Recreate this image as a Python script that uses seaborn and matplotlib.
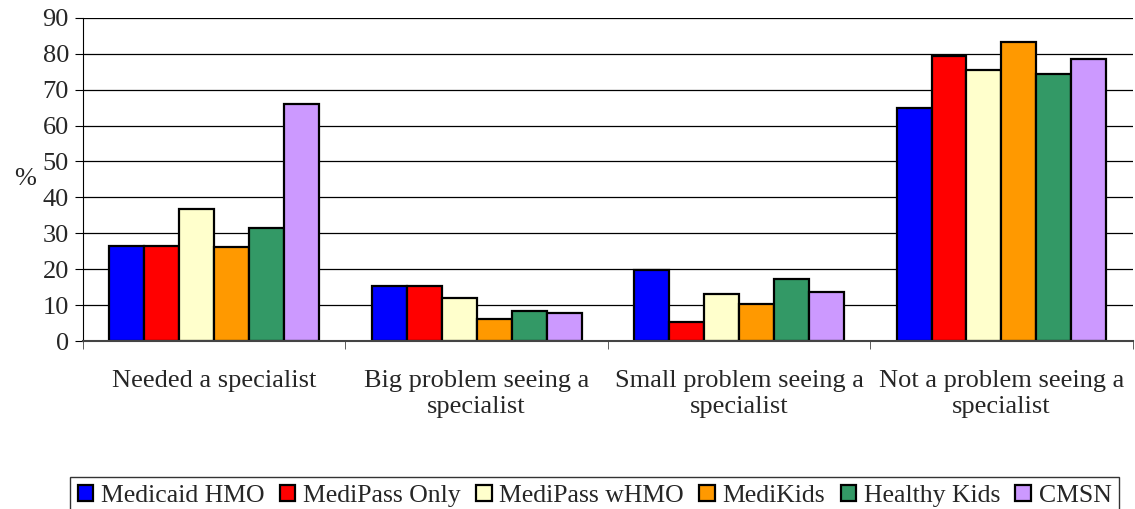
import pandas as pd
import matplotlib.pyplot as plt
import seaborn as sns

categories = ["Needed a specialist", "Big problem seeing a\nspecialist",
              "Small problem seeing a\nspecialist", "Not a problem seeing a\nspecialist"]
plans = ["Medicaid HMO", "MediPass Only", "MediPass wHMO", "MediKids", "Healthy Kids", "CMSN"]

medicaid_hmo = [26.6, 15.2, 19.9, 65.0]
medipass_only = [26.6, 15.2, 5.2, 79.5]
medipass_whmo = [36.7, 12.0, 13.0, 75.4]
medikids = [26.2, 6.2, 10.4, 83.2]
healthy_kids = [31.4, 8.3, 17.2, 74.3]
cmsn = [65.9, 7.8, 13.6, 78.4]

colors = ["#0000ff", "#ff0000", "#ffffcc", "#ff9900", "#339966", "#cc99ff"]

series = [medicaid_hmo, medipass_only, medipass_whmo, medikids, healthy_kids, cmsn]
rows = []
for plan, vals in zip(plans, series):
    for cat, v in zip(categories, vals):
        rows.append({"category": cat, "plan": plan, "value": v})
df = pd.DataFrame(rows)

sns.set_style("white")
plt.rcParams["font.family"] = ["Liberation Serif", "DejaVu Serif"]

fig, ax = plt.subplots(figsize=(11.35, 5.09), dpi=100)
fig.subplots_adjust(left=0.073, right=0.998, top=0.965, bottom=0.33)

sns.barplot(data=df, x="category", y="value", hue="plan", hue_order=plans,
            palette=colors, saturation=1, edgecolor="black", linewidth=1.6, width=0.8,
            ax=ax, legend=True)

ax.set_ylim(0, 90)
ax.set_xlim(-0.5, 3.5)
ax.set_yticks(range(0, 91, 10))
ax.yaxis.grid(True, color="black", linewidth=0.9)
ax.set_axisbelow(True)
ax.set_xlabel("")
ax.set_ylabel("%", rotation=0, fontsize=19, va="center")
ax.yaxis.set_label_coords(-0.055, 0.5)

for s in ["top", "right"]:
    ax.spines[s].set_visible(False)
ax.spines["left"].set_color("black")
ax.spines["bottom"].set_color("#444444")
ax.spines["bottom"].set_linewidth(1.5)

ax.tick_params(axis="y", labelsize=19, length=6, direction="out", left=True, color="black", pad=4)
ax.tick_params(axis="x", which="major", labelsize=19, length=0, pad=21)
ax.set_xticks([-0.5, 0.5, 1.5, 2.5, 3.5], minor=True)
ax.tick_params(axis="x", which="minor", length=6, bottom=True, color="#444444")
for lbl in ax.get_xticklabels():
    lbl.set_linespacing(1.2)

ax.get_legend().remove()
handles, labels = ax.get_legend_handles_labels()
fig.legend(handles[:6], labels[:6], loc="upper center", bbox_to_anchor=(0.524, 0.088),
           ncol=6, frameon=True, fancybox=False, edgecolor="black", fontsize=18.5,
           handlelength=0.6, handleheight=0.6, handletextpad=0.3, columnspacing=0.6,
           borderpad=0.3)

plt.savefig("out.png", dpi=100)
